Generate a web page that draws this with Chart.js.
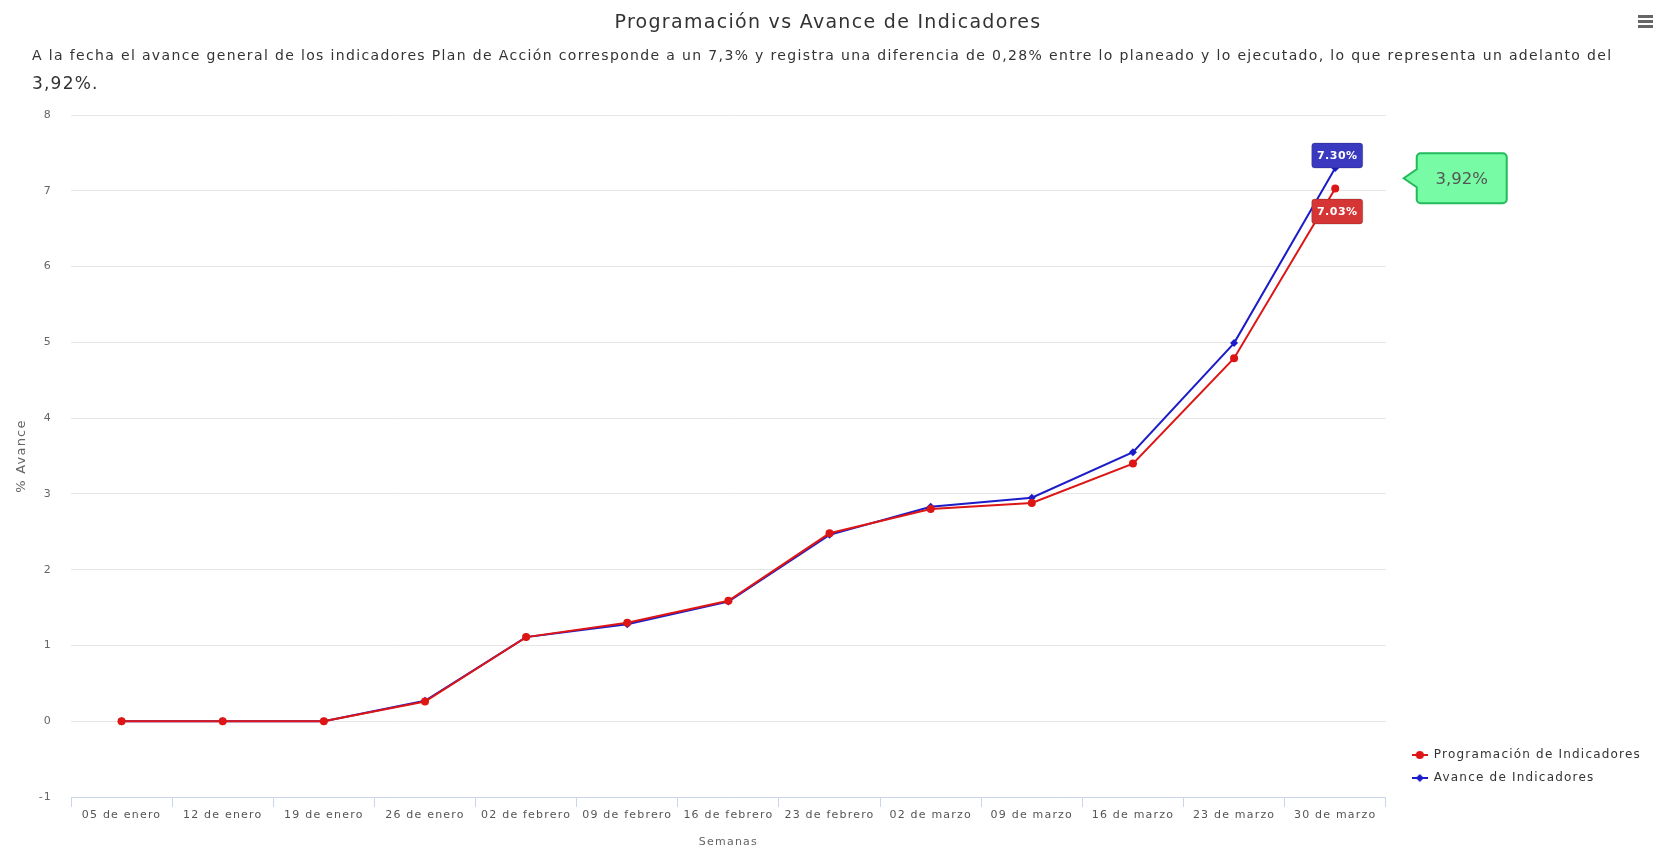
<!DOCTYPE html>
<html>
<head>
<meta charset="utf-8">
<script src="https://cdn.jsdelivr.net/npm/chart.js@4.4.1/dist/chart.umd.min.js"></script>
<style>
    html, body { margin: 0; padding: 0; background: #fff; }
    body { width: 1656px; height: 849px; position: relative; overflow: hidden; font-family: "DejaVu Sans", sans-serif; }
    #chart-wrap { position: absolute; left: 0; top: 0; width: 1656px; height: 849px; }
    #titulo { position: absolute; left: 0; top: 9px; width: 1656px; text-align: center; font-size: 19px; line-height: 24px; letter-spacing: 1.3px; color: #333; }
    #subtitulo { position: absolute; left: 32px; top: 45px; font-size: 14px; line-height: 20px; letter-spacing: 1.35px; color: #333; white-space: nowrap; }
    #subtitulo .grande { display: block; margin-top: 8px; font-size: 17px; letter-spacing: 1.2px; }
    #menu { position: absolute; left: 1638px; top: 15px; width: 15px; }
    #menu div { height: 3px; background: #666; margin-bottom: 2px; }
</style>
</head>
<body>
<div id="chart-wrap"><canvas id="grafico"></canvas></div>
<div id="titulo">Programación vs Avance de Indicadores</div>
<div id="subtitulo">A la fecha el avance general de los indicadores Plan de Acción corresponde a un 7,3% y registra una diferencia de 0,28% entre lo planeado y lo ejecutado, lo que representa un adelanto del<span class="grande">3,92%.</span></div>
<div id="menu"><div></div><div></div><div></div></div>
<script>
// Datos
const semanas = ['05 de enero', '12 de enero', '19 de enero', '26 de enero', '02 de febrero', '09 de febrero',
    '16 de febrero', '23 de febrero', '02 de marzo', '09 de marzo', '16 de marzo', '23 de marzo', '30 de marzo'];
const programacion = [0, 0, 0, 0.26, 1.11, 1.30, 1.59, 2.48, 2.80, 2.88, 3.40, 4.79, 7.03];
const avance = [0, 0, 0, 0.27, 1.11, 1.28, 1.58, 2.46, 2.83, 2.95, 3.55, 4.99, 7.30];
const ADELANTO = '3,92%';

const ROJO = '#dd1515';
const AZUL = '#1c1cc8';

Chart.defaults.font.family = '"DejaVu Sans", sans-serif';
Chart.defaults.animation = false;

// Simbolo de leyenda: linea con marcador
function simboloLeyenda(color, forma) {
    const c = document.createElement('canvas');
    c.width = 16;
    c.height = 10;
    const ctx = c.getContext('2d');
    ctx.strokeStyle = color;
    ctx.lineWidth = 2;
    ctx.beginPath();
    ctx.moveTo(0, 5);
    ctx.lineTo(16, 5);
    ctx.stroke();
    ctx.fillStyle = color;
    ctx.beginPath();
    if (forma === 'circle') {
        ctx.arc(8, 5, 4, 0, Math.PI * 2);
    } else {
        ctx.moveTo(8, 1); ctx.lineTo(12, 5); ctx.lineTo(8, 9); ctx.lineTo(4, 5);
        ctx.closePath();
    }
    ctx.fill();
    return c;
}
const simbolos = [simboloLeyenda(ROJO, 'circle'), simboloLeyenda(AZUL, 'diamond')];

function rectRedondo(ctx, x, y, w, h, r) {
    ctx.beginPath();
    ctx.moveTo(x + r, y);
    ctx.lineTo(x + w - r, y);
    ctx.arcTo(x + w, y, x + w, y + r, r);
    ctx.lineTo(x + w, y + h - r);
    ctx.arcTo(x + w, y + h, x + w - r, y + h, r);
    ctx.lineTo(x + r, y + h);
    ctx.arcTo(x, y + h, x, y + h - r, r);
    ctx.lineTo(x, y + r);
    ctx.arcTo(x, y, x + r, y, r);
    ctx.closePath();
}

function etiqueta(ctx, cx, cy, texto, fondo) {
    rectRedondo(ctx, cx - 25.5, cy - 12.5, 51, 25, 3);
    ctx.fillStyle = fondo;
    ctx.fill();
    ctx.strokeStyle = 'rgba(0,0,0,0.2)';
    ctx.lineWidth = 1;
    ctx.stroke();
    ctx.fillStyle = '#fff';
    ctx.font = 'bold 11px "DejaVu Sans"';
    ctx.letterSpacing = '0.5px';
    ctx.textAlign = 'center';
    ctx.textBaseline = 'middle';
    ctx.fillText(texto, cx, cy + 1);
}

// Espaciado de letras para todo el texto del canvas
const espaciado = {
    id: 'espaciado',
    beforeLayout(chart) { chart.ctx.letterSpacing = '1.2px'; },
    beforeDraw(chart) { chart.ctx.letterSpacing = '1.2px'; }
};

// Etiquetas del ultimo punto y globo de adelanto
const anotaciones = {
    id: 'anotaciones',
    afterDatasetsDraw(chart) {
        const ctx = chart.ctx;
        const ult = semanas.length - 1;
        const pProg = chart.getDatasetMeta(0).data[ult];
        const pAv = chart.getDatasetMeta(1).data[ult];
        ctx.save();
        etiqueta(ctx, pAv.x + 2, pAv.y - 12.5, avance[ult].toFixed(2) + '%', '#3a3ac0');
        etiqueta(ctx, pProg.x + 2, pProg.y + 23, programacion[ult].toFixed(2) + '%', '#d63535');

        // globo
        const medio = (pAv.y + pProg.y) / 2;
        const punta = pAv.x + 68.5;
        const izq = punta + 13, w = 90, h = 50, top = medio - 25, r = 4;
        ctx.beginPath();
        ctx.moveTo(izq + r, top);
        ctx.lineTo(izq + w - r, top);
        ctx.arcTo(izq + w, top, izq + w, top + r, r);
        ctx.lineTo(izq + w, top + h - r);
        ctx.arcTo(izq + w, top + h, izq + w - r, top + h, r);
        ctx.lineTo(izq + r, top + h);
        ctx.arcTo(izq, top + h, izq, top + h - r, r);
        ctx.lineTo(izq, medio + 9);
        ctx.lineTo(punta, medio);
        ctx.lineTo(izq, medio - 9);
        ctx.lineTo(izq, top + r);
        ctx.arcTo(izq, top, izq + r, top, r);
        ctx.closePath();
        ctx.fillStyle = '#77fca5';
        ctx.fill();
        ctx.strokeStyle = '#22bb5c';
        ctx.lineWidth = 2;
        ctx.stroke();
        ctx.fillStyle = '#555';
        ctx.font = '16.5px "DejaVu Sans"';
        ctx.letterSpacing = '0px';
        ctx.textAlign = 'center';
        ctx.textBaseline = 'middle';
        ctx.fillText(ADELANTO, izq + w / 2, medio + 1);
        ctx.restore();
    }
};

// Ajuste de posicion de la leyenda
const moverLeyenda = {
    id: 'moverLeyenda',
    afterLayout(chart) {
        const l = chart.legend;
        l.left += 15; l.right += 15;
        l.top -= 2; l.bottom -= 2;
    }
};

const chart = new Chart(document.getElementById('grafico'), {
    type: 'line',
    data: {
        labels: semanas,
        datasets: [{
            label: 'Programación de Indicadores',
            data: programacion,
            borderColor: ROJO,
            backgroundColor: ROJO,
            borderWidth: 2,
            pointStyle: 'circle',
            pointRadius: 4,
            pointBorderWidth: 0,
            tension: 0
        }, {
            label: 'Avance de Indicadores',
            data: avance,
            borderColor: AZUL,
            backgroundColor: AZUL,
            borderWidth: 2,
            pointStyle: 'rectRot',
            pointRadius: 4,
            pointBorderWidth: 0,
            tension: 0
        }]
    },
    options: {
        responsive: true,
        maintainAspectRatio: false,
        layout: { padding: { top: 115, left: 0, right: 20, bottom: 0 } },
        plugins: {
            tooltip: { enabled: false },
            legend: {
                position: 'right',
                align: 'end',
                fullSize: false,
                labels: {
                    usePointStyle: true,
                    pointStyleWidth: 16,
                    boxHeight: 10,
                    padding: 11,
                    color: '#333',
                    font: { size: 12 },
                    generateLabels(c) {
                        const items = Chart.defaults.plugins.legend.labels.generateLabels(c);
                        items.forEach((it, i) => { it.pointStyle = simbolos[i]; });
                        return items;
                    }
                }
            }
        },
        scales: {
            x: {
                offset: true,
                grid: { offset: true, drawOnChartArea: false, drawTicks: true, tickLength: 10, color: '#ccd6eb' },
                border: { display: true, color: '#ccd6eb' },
                ticks: { color: '#555', font: { size: 11 }, padding: 2, maxRotation: 0, autoSkip: false },
                title: { display: true, text: 'Semanas', color: '#666', font: { size: 11 }, padding: { top: 0, bottom: 0 } },
                afterFit(scale) { scale.height = 52; }
            },
            y: {
                min: -1,
                max: 8,
                ticks: { stepSize: 1, color: '#666', font: { size: 11 }, padding: 19 },
                grid: { color: '#e6e6e6', drawTicks: false },
                border: { display: false },
                title: { display: true, text: '% Avance', color: '#666', font: { size: 13 }, padding: { top: 14, bottom: 0 } },
                afterFit(scale) { scale.width = 71; }
            }
        }
    },
    plugins: [espaciado, anotaciones, moverLeyenda]
});
</script>
</body>
</html>
